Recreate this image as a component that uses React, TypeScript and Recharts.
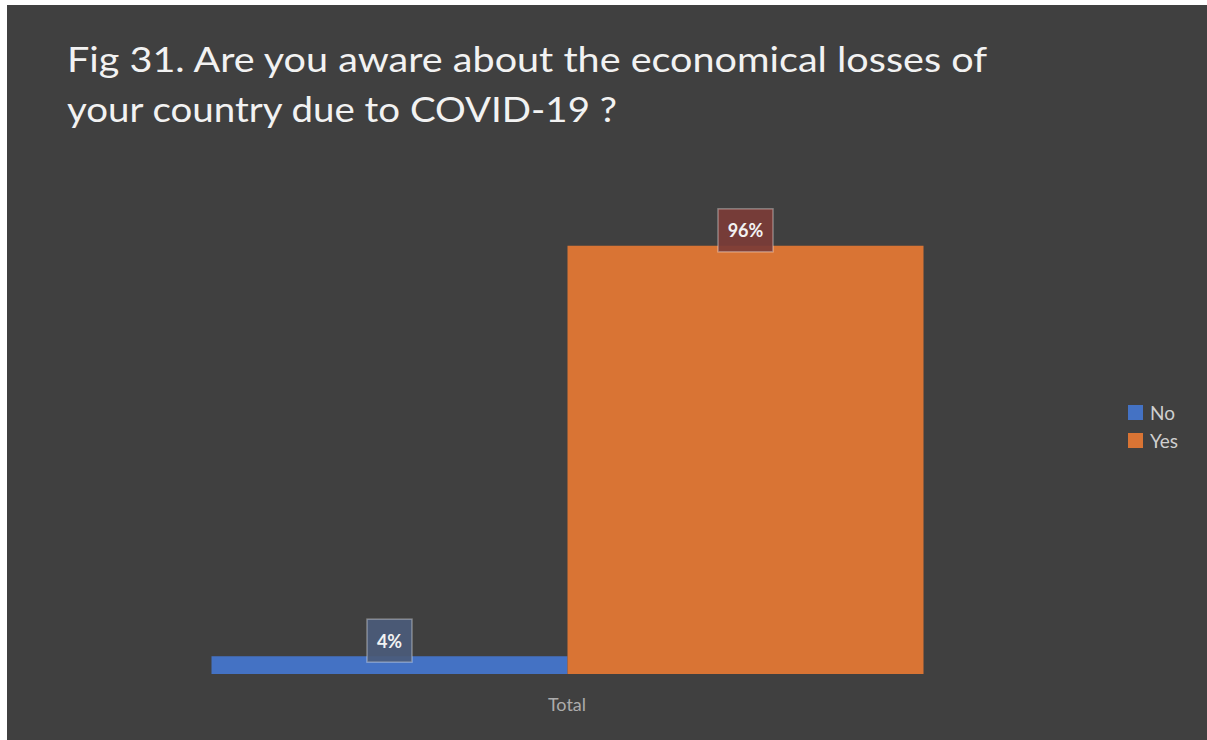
import React from 'react';
import { BarChart, Bar, XAxis, YAxis, LabelList } from 'recharts';

const categories = ['Total'];
const noValues = [4];
const yesValues = [96];
const seriesNames = ['No', 'Yes'];
const seriesColors = ['#4472c4', '#d97434'];
const labelBoxColors = ['#4b5b7a', '#7b3c37'];

const data = categories.map((c, i) => ({ name: c, No: noValues[i], Yes: yesValues[i] }));

const FONT = 'Lato, "Open Sans", sans-serif';

const makeLabel = (boxColor: string) => (props: any) => {
  const { x, y, width, value } = props;
  const text = `${value}%`;
  const w = 25 + 10 * text.length;
  const h = 43;
  const cx = x + width / 2;
  const cy = y - 15.5;
  return (
    <g>
      <rect x={cx - w / 2} y={cy - h / 2} width={w} height={h} fill={boxColor} fillOpacity={0.92} stroke="rgba(255,255,255,0.35)" strokeWidth={1.5} />
      <text x={cx} y={cy} textAnchor="middle" dominantBaseline="central" fill="#f2f2f2" fontSize={18} fontWeight={700} fontFamily={FONT}>{text}</text>
    </g>
  );
};

const Tick = (props: any) => {
  const { x, payload } = props;
  return (
    <text x={x} y={699} textAnchor="middle" dominantBaseline="central" fill="#acacac" fontSize={18} fontFamily={FONT}>{payload.value}</text>
  );
};

const LegendBlock = () => (
  <div style={{ position: 'absolute', left: 1121, top: 393, fontFamily: FONT, fontSize: 19, color: '#cfcfcf' }}>
    {seriesNames.map((n, i) => (
      <div key={n} style={{ display: 'flex', alignItems: 'center', height: 28 }}>
        <div style={{ width: 15, height: 15, background: seriesColors[i], marginRight: 7 }} />
        <span>{n}</span>
      </div>
    ))}
  </div>
);

export default function App() {
  return (
    <div style={{ position: 'absolute', left: 7, top: 5, width: 1200, height: 735, background: '#404040', overflow: 'hidden' }}>
      <svg width={1200} height={140} style={{ position: 'absolute', left: 0, top: 0 }}>
        <text x={60} y={67} fill="#f2f2f2" fontSize={35} fontFamily={FONT} textLength={920} lengthAdjust="spacingAndGlyphs">Fig 31. Are you aware about the economical losses of</text>
        <text x={60} y={117} fill="#f2f2f2" fontSize={35} fontFamily={FONT} textLength={550} lengthAdjust="spacingAndGlyphs">your country due to COVID-19 ?</text>
      </svg>
      <div style={{ position: 'absolute', left: 0, top: 0 }}>
        <BarChart width={1200} height={735} data={data} margin={{ top: 223, right: 140, bottom: 36, left: 60 }} barGap={0} barCategoryGap={144.5}>
          <XAxis dataKey="name" axisLine={false} tickLine={false} height={30} tick={<Tick />} />
          <YAxis hide domain={[0, 100]} />
          <Bar dataKey="No" fill={seriesColors[0]} isAnimationActive={false}>
            <LabelList dataKey="No" content={makeLabel(labelBoxColors[0])} />
          </Bar>
          <Bar dataKey="Yes" fill={seriesColors[1]} isAnimationActive={false}>
            <LabelList dataKey="Yes" content={makeLabel(labelBoxColors[1])} />
          </Bar>
        </BarChart>
      </div>
      <LegendBlock />
    </div>
  );
}
